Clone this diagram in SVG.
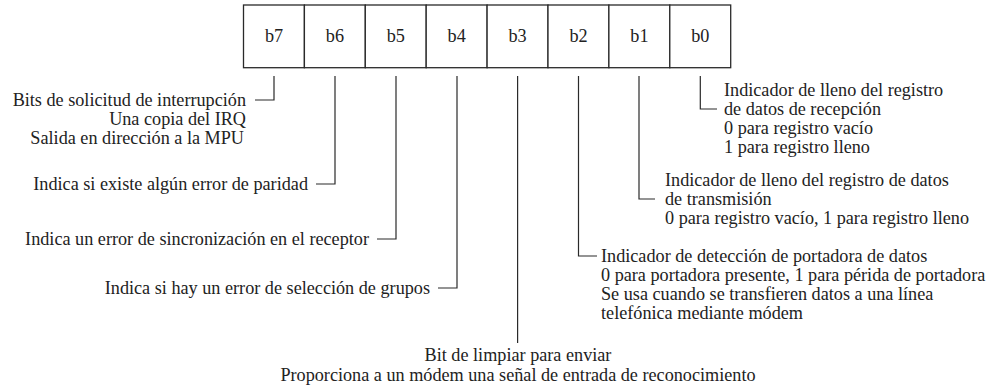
<svg xmlns="http://www.w3.org/2000/svg" width="1002" height="392" viewBox="0 0 1002 392">
<style>
.cell{fill:#fff;stroke:#2a2a2a;stroke-width:1.3}
.ld{fill:none;stroke:#2a2a2a;stroke-width:1.2}
.e{text-anchor:end}
.m{text-anchor:middle}
</style>
<rect width="1002" height="392" fill="#fff"/>
<g style="font-family:'Liberation Serif',serif;font-size:18.2px" fill="#222">
<g id="register">
<rect class="cell" x="243.5" y="5" width="60.9" height="62.7"/>
<rect class="cell" x="304.4" y="5" width="60.9" height="62.7"/>
<rect class="cell" x="365.3" y="5" width="60.9" height="62.7"/>
<rect class="cell" x="426.2" y="5" width="60.9" height="62.7"/>
<rect class="cell" x="487.1" y="5" width="60.9" height="62.7"/>
<rect class="cell" x="548" y="5" width="60.9" height="62.7"/>
<rect class="cell" x="608.9" y="5" width="60.9" height="62.7"/>
<rect class="cell" x="669.8" y="5" width="60.9" height="62.7"/>
<text class="m" x="274" y="42">b7</text>
<text class="m" x="334.9" y="42">b6</text>
<text class="m" x="395.8" y="42">b5</text>
<text class="m" x="456.7" y="42">b4</text>
<text class="m" x="517.6" y="42">b3</text>
<text class="m" x="578.5" y="42">b2</text>
<text class="m" x="639.4" y="42">b1</text>
<text class="m" x="700.3" y="42">b0</text>
</g>
<g id="connectors">
<polyline class="ld" points="274,76 274,100 255,100"/>
<polyline class="ld" points="335,76 335,184 316,184"/>
<polyline class="ld" points="396,76 396,239 377,239"/>
<polyline class="ld" points="457,76 457,288 438,288"/>
<polyline class="ld" points="517.6,76 517.6,343"/>
<polyline class="ld" points="578.5,76 578.5,256 597,256"/>
<polyline class="ld" points="639,76 639,199 655,199"/>
<polyline class="ld" points="700.3,76 700.3,109 717,109"/>
</g>
<g id="b7-label">
<text class="e" x="246" y="106">Bits de solicitud de interrupción</text>
<text class="e" x="246" y="125">Una copia del IRQ</text>
<text class="e" x="244" y="144">Salida en dirección a la MPU</text>
</g>
<g id="b6-label"><text class="e" x="308" y="190">Indica si existe algún error de paridad</text></g>
<g id="b5-label"><text class="e" x="369" y="245">Indica un error de sincronización en el receptor</text></g>
<g id="b4-label"><text class="e" x="430" y="294">Indica si hay un error de selección de grupos</text></g>
<g id="b3-label">
<text class="m" x="518" y="361">Bit de limpiar para enviar</text>
<text class="m" x="518" y="381">Proporciona a un módem una señal de entrada de reconocimiento</text>
</g>
<g id="b2-label">
<text x="601" y="262">Indicador de detección de portadora de datos</text>
<text x="601" y="281">0 para portadora presente, 1 para périda de portadora</text>
<text x="601" y="300">Se usa cuando se transfieren datos a una línea</text>
<text x="601" y="319">telefónica mediante módem</text>
</g>
<g id="b1-label">
<text x="665" y="186">Indicador de lleno del registro de datos</text>
<text x="665" y="205">de transmisión</text>
<text x="665" y="224">0 para registro vacío, 1 para registro lleno</text>
</g>
<g id="b0-label">
<text x="724" y="96">Indicador de lleno del registro</text>
<text x="724" y="115">de datos de recepción</text>
<text x="724" y="134">0 para registro vacío</text>
<text x="724" y="153">1 para registro lleno</text>
</g>
</g>
</svg>
